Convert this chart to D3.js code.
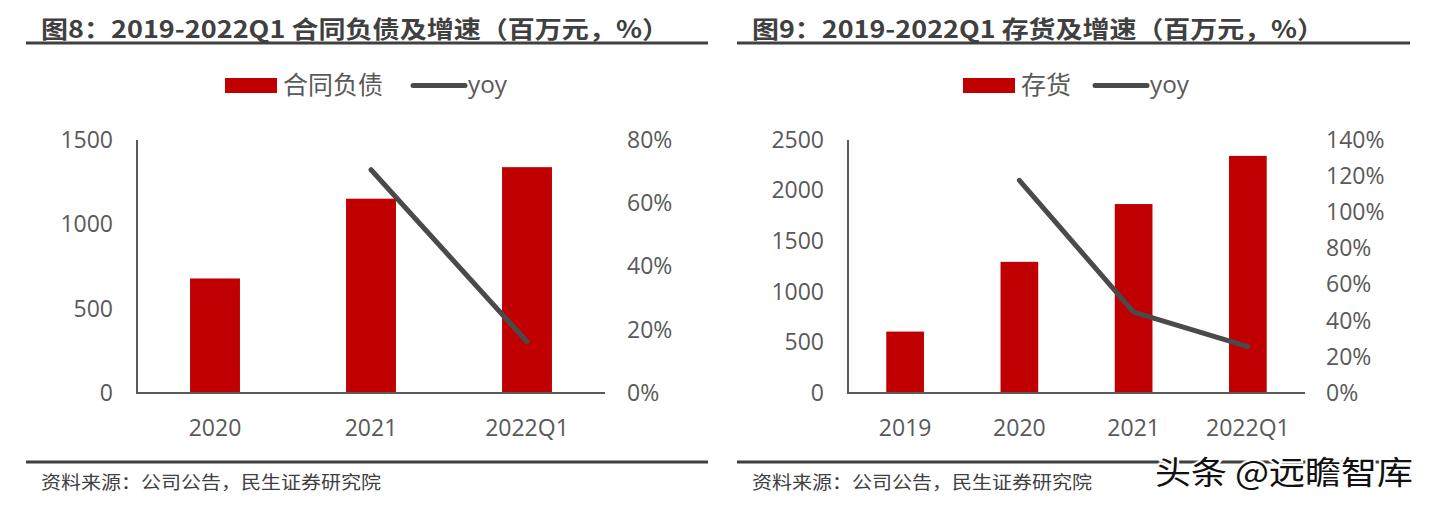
<!DOCTYPE html>
<html><head><meta charset="utf-8">
<script src="https://cdn.jsdelivr.net/npm/d3@7"></script>
<style>
html,body{margin:0;padding:0;background:#fff;}
svg{display:block;}
</style></head>
<body>
<svg id="c" width="1430" height="505"></svg>
<script>
// ---- data ----
const cats1 = ["2020", "2021", "2022Q1"];
const contractLiab = [679, 1152, 1339];
const contractYoy = [null, 70.6, 16.2];
const leftTicks1 = [0, 500, 1000, 1500];
const rightTicks1 = [0, 20, 40, 60, 80];

const cats2 = ["2019", "2020", "2021", "2022Q1"];
const inventory = [607, 1296, 1867, 2343];
const inventoryYoy = [null, 117.6, 44.8, 25.7];
const leftTicks2 = [0, 500, 1000, 1500, 2000, 2500];
const rightTicks2 = [0, 20, 40, 60, 80, 100, 120, 140];

const title1 = "图8：2019-2022Q1 合同负债及增速（百万元，%）";
const title2 = "图9：2019-2022Q1 存货及增速（百万元，%）";
const source = "资料来源：公司公告，民生证券研究院";

const svg = d3.select("#c");
const RED = "#C00000", LINE = "#4a4a4a", TXT = "#595959", DARK = "#404040";
const NUMFONT = "'Open Sans',sans-serif";
const CJK = "'Noto Sans CJK SC','Noto Sans',sans-serif";

function panel(o) {
  const g = svg.append("g");
  // title
  g.append("text").attr("x", o.titleX).attr("y", 38).text(o.title)
    .attr("font-family", CJK).attr("font-weight", "bold").attr("font-size", 24)
    .attr("fill", DARK).attr("textLength", o.titleW).attr("lengthAdjust", "spacingAndGlyphs");
  g.append("line").attr("x1", o.ruleX1).attr("x2", o.ruleX2).attr("y1", 43).attr("y2", 43)
    .attr("stroke", DARK).attr("stroke-width", 3);
  // footer
  g.append("line").attr("x1", o.ruleX1).attr("x2", o.ruleX2).attr("y1", 462).attr("y2", 462)
    .attr("stroke", DARK).attr("stroke-width", 3);
  g.append("text").attr("x", o.titleX).attr("y", 489).text(source)
    .attr("font-family", CJK).attr("font-size", 18).attr("fill", DARK)
    .attr("textLength", 340).attr("lengthAdjust", "spacingAndGlyphs");

  const x = d3.scaleBand().domain(o.cats).range([o.x0, o.x1]).paddingInner(o.pad).paddingOuter(o.pad / 2);
  const y = d3.scaleLinear().domain([0, o.yMax]).range([393, 140]);
  const y2 = d3.scaleLinear().domain([0, o.y2Max]).range([393, 140]);

  // bars
  g.selectAll("rect.bar").data(o.vals).join("rect").attr("class", "bar")
    .attr("x", (d, i) => x(o.cats[i])).attr("width", x.bandwidth())
    .attr("y", d => y(d)).attr("height", d => 393 - y(d)).attr("fill", RED);

  // axes
  const yl = d3.axisLeft(y).tickValues(o.lt).tickSize(0).tickPadding(0).tickFormat(d3.format("d"));
  const ga = g.append("g").attr("transform", `translate(${o.x0 - 24},0)`).call(yl);
  ga.select(".domain").remove();
  const yr = d3.axisRight(y2).tickValues(o.rt).tickSize(0).tickFormat(d => d + "%");
  const gr = g.append("g").attr("transform", `translate(${o.rx},0)`).call(yr);
  gr.select(".domain").remove();
  const xa = d3.axisBottom(x).tickSize(0).tickPadding(0);
  const gx = g.append("g").attr("transform", `translate(0,436)`).call(xa);
  gx.select(".domain").remove();
  [ga, gr, gx].forEach(s => s.selectAll("text").attr("font-family", NUMFONT)
    .attr("font-size", 23).attr("fill", TXT));
  gx.selectAll("text").attr("dy", 0);

  g.append("line").attr("x1", o.x0).attr("x2", o.x0).attr("y1", 140).attr("y2", 394)
    .attr("stroke", TXT).attr("stroke-width", 2);
  g.append("line").attr("x1", o.x0).attr("x2", o.x1).attr("y1", 393).attr("y2", 393)
    .attr("stroke", TXT).attr("stroke-width", 2);

  // line
  const pts = o.yoy.map((v, i) => ({ v, c: o.cats[i] })).filter(d => d.v != null);
  g.append("path").datum(pts)
    .attr("d", d3.line().x(d => x(d.c) + x.bandwidth() / 2).y(d => y2(d.v)))
    .attr("fill", "none").attr("stroke", LINE).attr("stroke-width", 5)
    .attr("stroke-linecap", "round").attr("stroke-linejoin", "round");

  // legend
  const L = g.append("g");
  L.append("rect").attr("x", o.lgX).attr("y", 78).attr("width", 52).attr("height", 15).attr("fill", RED);
  L.append("text").attr("x", o.lgX + 58).attr("y", 94).text(o.name)
    .attr("font-family", CJK).attr("font-size", 25).attr("fill", TXT);
  L.append("line").attr("x1", o.lgX2).attr("x2", o.lgX2 + 52).attr("y1", 85.5).attr("y2", 85.5)
    .attr("stroke", LINE).attr("stroke-width", 5).attr("stroke-linecap", "round");
  L.append("text").attr("x", o.lgX2 + 55).attr("y", 93).text("yoy")
    .attr("font-family", NUMFONT).attr("font-size", 24).attr("fill", TXT)
    .attr("textLength", 39).attr("lengthAdjust", "spacingAndGlyphs");
}

panel({ title: title1, titleX: 41, titleW: 628, ruleX1: 26, ruleX2: 708,
  cats: cats1, vals: contractLiab, yoy: contractYoy, yMax: 1500, y2Max: 80,
  lt: leftTicks1, rt: rightTicks1, x0: 137, x1: 605, pad: 0.68, rx: 624,
  name: "合同负债", lgX: 225, lgX2: 413 });
panel({ title: title2, titleX: 752, titleW: 572, ruleX1: 737, ruleX2: 1410,
  cats: cats2, vals: inventory, yoy: inventoryYoy, yMax: 2500, y2Max: 140,
  lt: leftTicks2, rt: rightTicks2, x0: 848, x1: 1305, pad: 0.67, rx: 1323,
  name: "存货", lgX: 963, lgX2: 1095 });

// watermark
svg.append("text").attr("x", 1155).attr("y", 484).text("头条 @远瞻智库")
  .attr("font-family", CJK).attr("font-size", 32).attr("fill", "#111")
  .attr("stroke", "#fff").attr("stroke-width", 4).attr("paint-order", "stroke")
  .attr("textLength", 258).attr("lengthAdjust", "spacingAndGlyphs");
</script>
</body></html>
